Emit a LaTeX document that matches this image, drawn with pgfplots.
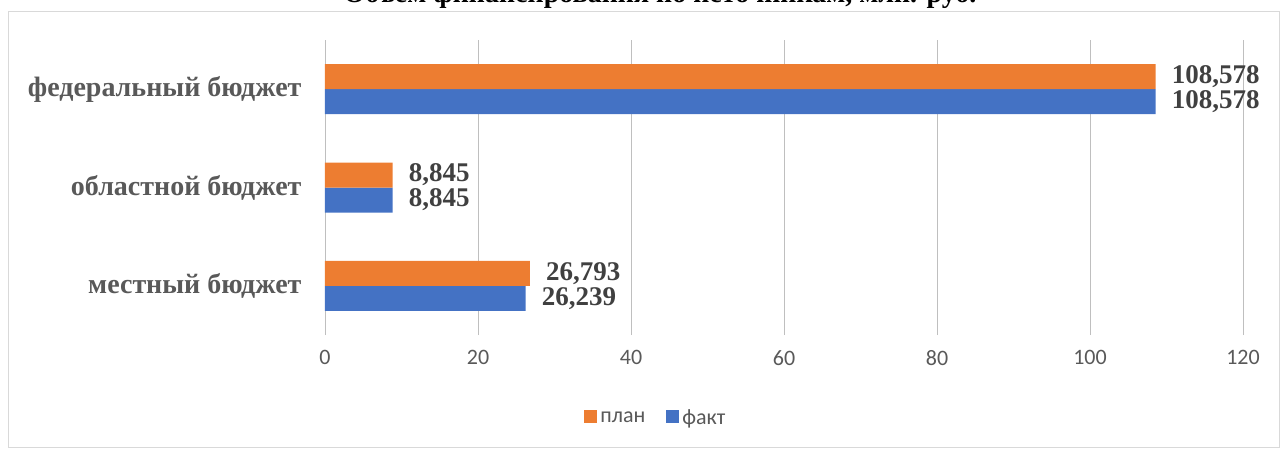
\documentclass[border=0pt]{standalone}
\usepackage{fontspec}
\setmainfont{Liberation Serif}
\newfontfamily\carlito{Carlito}
\usepackage{pgfplots}
\pgfplotsset{compat=1.18}
\definecolor{cplan}{HTML}{ED7D31}
\definecolor{cfakt}{HTML}{4472C4}
\definecolor{grid}{HTML}{D9D9D9}
\definecolor{txt}{HTML}{595959}
\definecolor{lbl}{HTML}{404040}
\begin{document}
\begin{tikzpicture}
\draw[grid, line width=0.8pt] (-317pt,-112pt) rectangle (954pt,324pt);
\begin{axis}[
  at={(0pt,0pt)}, anchor=south west,
  scale only axis, width=918pt, height=295pt,
  xbar, bar width=25pt,
  xmin=0, xmax=120, ymin=-0.5, ymax=2.5,
  xtick={0,20,...,120},
  ytick={0,1,2},
  yticklabels={местный бюджет, областной бюджет, федеральный бюджет},
  xmajorgrids, ymajorgrids=false, grid style={grid, line width=0.8pt},
  axis line style={draw=none},
  xtick style={draw=none}, ytick style={draw=none},
  major tick length=0pt,
  /pgf/number format/assume math mode=true,
  xticklabel style={font=\carlito\fontsize{22}{24}\selectfont, text=txt, yshift=-12pt},
  yticklabel style={font=\fontsize{28}{30}\selectfont\bfseries, text=txt, xshift=-20pt},
  nodes near coords={\pgfmathprintnumber[fixed, fixed zerofill, precision=3, use comma, 1000 sep={}]{\pgfplotspointmeta}},
  point meta=x,
  every node near coord/.append style={font=\fontsize{27}{29}\selectfont\bfseries, text=lbl, anchor=west, inner sep=0pt, xshift=16pt},
  legend style={at={(0.36,-0.281)}, anchor=center, draw=none, legend columns=2,
    nodes={font=\carlito\fontsize{22}{24}\selectfont, text=txt, inner sep=1pt},
    /tikz/every odd column/.append style={column sep=2pt},
    /tikz/every even column/.append style={column sep=20pt}},
  legend image code/.code={\fill[#1] (0pt,-5.5pt) rectangle (13pt,7.5pt);},
  reverse legend,
]
\addplot[fill=cfakt, draw=none, bar shift=-12.5pt] coordinates {(26.239,0) (8.845,1) (108.578,2)};
\addlegendentry{факт}
\addplot[fill=cplan, draw=none, bar shift=12.5pt] coordinates {(26.793,0) (8.845,1) (108.578,2)};
\addlegendentry{план}
\end{axis}
\node[anchor=base, font=\fontsize{28}{30}\selectfont\bfseries, text=black] at (335pt,332pt) {Объем финансирования по источникам, млн. руб.};
\pgfresetboundingbox
\useasboundingbox (-325pt,-113pt) rectangle (957pt,335pt);
\end{tikzpicture}
\end{document}
